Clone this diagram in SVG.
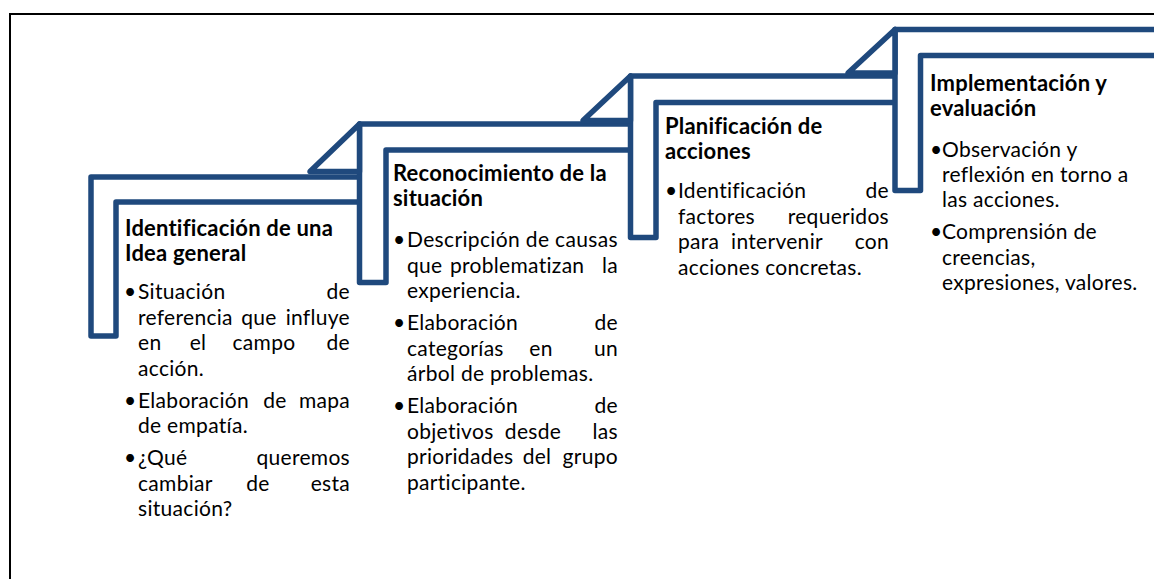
<svg xmlns="http://www.w3.org/2000/svg" width="1154" height="579" viewBox="0 0 1154 579">
<style>
.frame{fill:none;stroke:#000;stroke-width:2}
.step{fill:#fff;stroke:#1F497D;stroke-width:5.5;stroke-linejoin:round}
.t{font-family:Lato,"Liberation Sans",sans-serif;font-size:21px;letter-spacing:0.3px;fill:#000}
.h{font-family:Lato,"Liberation Sans",sans-serif;font-size:22px;letter-spacing:0.2px;font-weight:bold;fill:#000}
.e{text-anchor:end}
.m{text-anchor:middle}
</style>
<rect x="0" y="0" width="1154" height="579" fill="#fff"/>
<rect class="frame" x="10" y="14" width="1200" height="700"/>

<g id="node1">
<path class="step" d="M91,336 L91,177 L362,177 L362,202 L116,202 L116,336 Z"/>
<text class="h" x="125" y="236">Identificación de una</text>
<text class="h" x="125" y="261">Idea general</text>
<text class="t" x="124" y="299">•</text>
<text class="t" x="138" y="299">Situación</text>
<text class="t e" x="350" y="299">de</text>
<text class="t" x="138" y="324.5">referencia</text>
<text class="t m" x="259" y="324.5">que</text>
<text class="t e" x="350" y="324.5">influye</text>
<text class="t" x="138" y="350">en</text>
<text class="t m" x="198" y="350">el</text>
<text class="t m" x="264" y="350">campo</text>
<text class="t e" x="350" y="350">de</text>
<text class="t" x="138" y="375.5">acción.</text>
<text class="t" x="124" y="407.5">•</text>
<text class="t" x="138" y="407.5">Elaboración</text>
<text class="t m" x="275" y="407.5">de</text>
<text class="t e" x="350" y="407.5">mapa</text>
<text class="t" x="138" y="433">de empatía.</text>
<text class="t" x="124" y="465">•</text>
<text class="t" x="138" y="465">¿Qué</text>
<text class="t e" x="350" y="465">queremos</text>
<text class="t" x="138" y="490.5">cambiar</text>
<text class="t m" x="258" y="490.5">de</text>
<text class="t e" x="350" y="490.5">esta</text>
<text class="t" x="138" y="516">situación?</text>
</g>

<g id="node2">
<path class="step" d="M359.5,282.5 L359.5,124 L633,124 L633,150 L386,150 L386,282.5 Z"/>
<text class="h" x="393" y="181">Reconocimiento de la</text>
<text class="h" x="393" y="206">situación</text>
<text class="t" x="393" y="247">•</text>
<text class="t" x="407" y="247" textLength="211" lengthAdjust="spacing">Descripción de causas</text>
<text class="t" x="407" y="272.5">que</text>
<text class="t" x="450" y="272.5">problematizan</text>
<text class="t e" x="618" y="272.5">la</text>
<text class="t" x="407" y="298">experiencia.</text>
<text class="t" x="393" y="330">•</text>
<text class="t" x="407" y="330">Elaboración</text>
<text class="t e" x="618" y="330">de</text>
<text class="t" x="407" y="355.5">categorías</text>
<text class="t m" x="541" y="355.5">en</text>
<text class="t e" x="618" y="355.5">un</text>
<text class="t" x="407" y="381">árbol de problemas.</text>
<text class="t" x="393" y="413">•</text>
<text class="t" x="407" y="413">Elaboración</text>
<text class="t e" x="618" y="413">de</text>
<text class="t" x="407" y="438.5">objetivos</text>
<text class="t m" x="533" y="438.5">desde</text>
<text class="t e" x="618" y="438.5">las</text>
<text class="t" x="407" y="464">prioridades</text>
<text class="t m" x="537" y="464">del</text>
<text class="t e" x="618" y="464">grupo</text>
<text class="t" x="407" y="489.5">participante.</text>
</g>

<g id="node3">
<path class="step" d="M630.5,237.5 L630.5,76 L898,76 L898,102.5 L656,102.5 L656,237.5 Z"/>
<text class="h" x="665" y="134">Planificación de</text>
<text class="h" x="665" y="159">acciones</text>
<text class="t" x="665" y="198">•</text>
<text class="t" x="678" y="198">Identificación</text>
<text class="t e" x="889" y="198">de</text>
<text class="t" x="678" y="223.5">factores</text>
<text class="t e" x="889" y="223.5">requeridos</text>
<text class="t" x="678" y="249">para</text>
<text class="t m" x="777" y="249">intervenir</text>
<text class="t e" x="889" y="249">con</text>
<text class="t" x="678" y="274.5">acciones concretas.</text>
</g>

<g id="node4">
<path class="step" d="M895,190.5 L895,29.5 L1170,29.5 L1170,55.5 L920.5,55.5 L920.5,190.5 Z"/>
<text class="h" x="930" y="91">Implementación y</text>
<text class="h" x="930" y="116">evaluación</text>
<text class="t" x="930" y="157">•</text>
<text class="t" x="942" y="157">Observación y</text>
<text class="t" x="942" y="182">reflexión en torno a</text>
<text class="t" x="942" y="207">las acciones.</text>
<text class="t" x="930" y="239">•</text>
<text class="t" x="942" y="239">Comprensión de</text>
<text class="t" x="942" y="264.5">creencias,</text>
<text class="t" x="942" y="290">expresiones, valores.</text>
</g>

<g id="connectors">
<path class="step" d="M310,171.5 L359.5,124 L359.5,171.5 Z"/>
<path class="step" d="M583,120.5 L630.5,76 L630.5,120.5 Z"/>
<path class="step" d="M848,73 L895,29.5 L895,73 Z"/>
</g>
</svg>
